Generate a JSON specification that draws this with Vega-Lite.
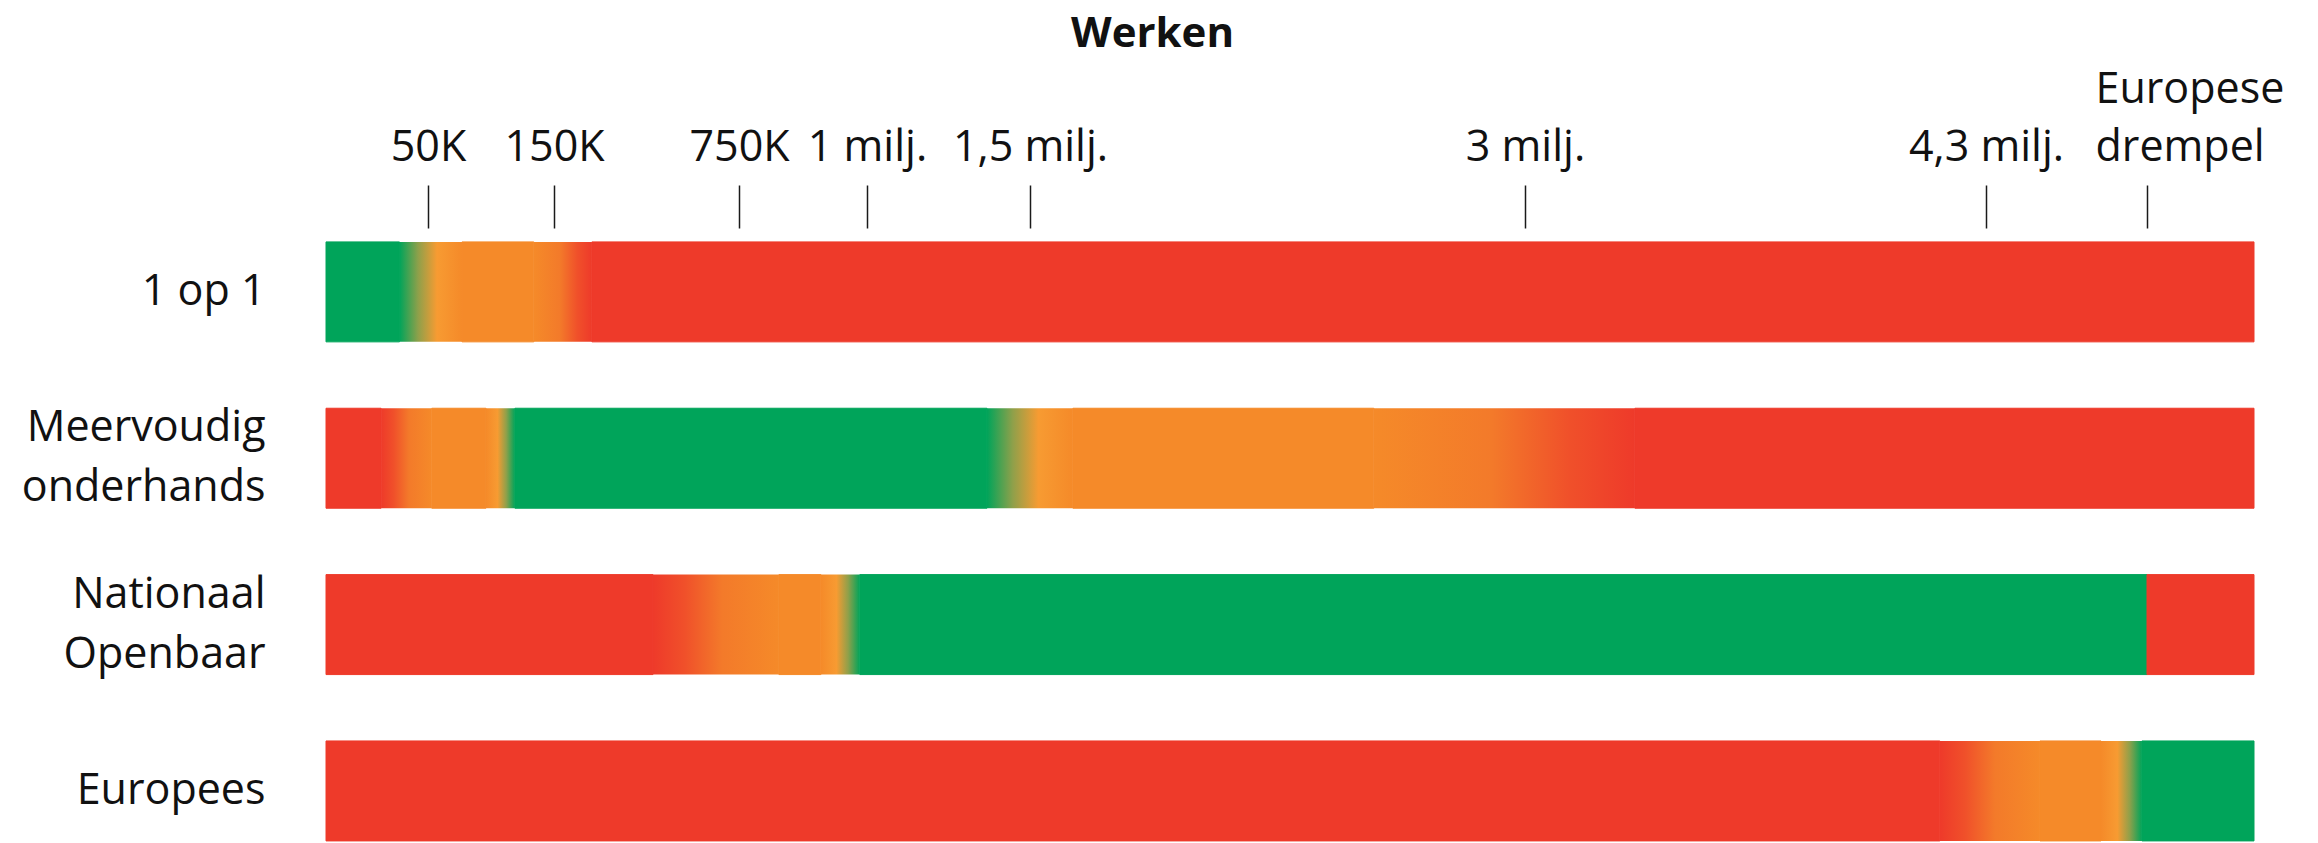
{
  "$schema": "https://vega.github.io/schema/vega-lite/v6.json",
  "width": 1928,
  "height": 615,
  "autosize": "none",
  "padding": {"left": 326, "top": 228, "right": 64, "bottom": 0},
  "background": "white",
  "config": {
    "font": "Open Sans",
    "view": {"stroke": null}
  },
  "title": {
    "text": "Werken",
    "fontSize": 42,
    "fontWeight": "bold",
    "color": "#111111",
    "anchor": "middle",
    "frame": "bounds",
    "offset": 12
  },
  "data": {
    "values": [
      {"procedure": "1 op 1", "start": 0, "eind": 36000, "kind": "groen"},
      {"procedure": "1 op 1", "start": 36000, "eind": 77000, "kind": "groen-oranje"},
      {"procedure": "1 op 1", "start": 77000, "eind": 134000, "kind": "oranje"},
      {"procedure": "1 op 1", "start": 134000, "eind": 273000, "kind": "oranje-rood"},
      {"procedure": "1 op 1", "start": 273000, "eind": 6000000, "kind": "rood"},

      {"procedure": "Meervoudig onderhands", "start": 0, "eind": 27000, "kind": "rood"},
      {"procedure": "Meervoudig onderhands", "start": 27000, "eind": 53000, "kind": "rood-oranje"},
      {"procedure": "Meervoudig onderhands", "start": 53000, "eind": 96000, "kind": "oranje"},
      {"procedure": "Meervoudig onderhands", "start": 96000, "eind": 119000, "kind": "oranje-groen"},
      {"procedure": "Meervoudig onderhands", "start": 119000, "eind": 1368000, "kind": "groen"},
      {"procedure": "Meervoudig onderhands", "start": 1368000, "eind": 1630000, "kind": "groen-oranje"},
      {"procedure": "Meervoudig onderhands", "start": 1630000, "eind": 2542000, "kind": "oranje"},
      {"procedure": "Meervoudig onderhands", "start": 2542000, "eind": 3310000, "kind": "oranje-rood"},
      {"procedure": "Meervoudig onderhands", "start": 3310000, "eind": 6000000, "kind": "rood"},

      {"procedure": "Nationaal Openbaar", "start": 0, "eind": 471000, "kind": "rood"},
      {"procedure": "Nationaal Openbaar", "start": 471000, "eind": 828000, "kind": "rood-oranje"},
      {"procedure": "Nationaal Openbaar", "start": 828000, "eind": 910000, "kind": "oranje"},
      {"procedure": "Nationaal Openbaar", "start": 910000, "eind": 986000, "kind": "oranje-groen"},
      {"procedure": "Nationaal Openbaar", "start": 986000, "eind": 5350000, "kind": "groen"},
      {"procedure": "Nationaal Openbaar", "start": 5350000, "eind": 6000000, "kind": "rood"},

      {"procedure": "Europees", "start": 0, "eind": 4170000, "kind": "rood"},
      {"procedure": "Europees", "start": 4170000, "eind": 4652000, "kind": "rood-oranje"},
      {"procedure": "Europees", "start": 4652000, "eind": 5050000, "kind": "oranje"},
      {"procedure": "Europees", "start": 5050000, "eind": 5317000, "kind": "oranje-groen"},
      {"procedure": "Europees", "start": 5317000, "eind": 6000000, "kind": "groen"}
    ]
  },
  "encoding": {
    "x": {
      "field": "start",
      "type": "quantitative",
      "scale": {
        "domain": [0, 50000, 150000, 750000, 1000000, 1500000, 3000000, 4300000, 5350000, 6000000],
        "range": [0, 102, 228, 413, 541, 704, 1199, 1660, 1821, 1928],
        "nice": false,
        "zero": false
      },
      "axis": {
        "orient": "top",
        "title": null,
        "domain": false,
        "grid": false,
        "values": [50000, 150000, 750000, 1000000, 1500000, 3000000, 4300000, 5350000],
        "labelExpr": "datum.value == 5350000 ? ['Europese', 'drempel'] : datum.value < 1000000 ? (datum.value / 1000) + 'K' : replace(format(datum.value / 1000000, '.1~f'), '.', ',') + ' milj.'",
        "labelFontSize": 43,
        "labelColor": "#111111",
        "labelLineHeight": 58,
        "labelPadding": {"condition": {"test": "datum.value == 5350000", "value": 74}, "value": 16},
        "labelOverlap": false,
        "labelFlush": false,
        "labelLimit": 0,
        "labelAlign": {"condition": {"test": "datum.value == 5350000", "value": "left"}, "value": "center"},
        "labelOffset": {"condition": {"test": "datum.value == 5350000", "value": -52}, "value": 0},
        "tickSize": 43,
        "tickWidth": 1.5,
        "tickColor": "#1a1a1a"
      }
    },
    "x2": {"field": "eind"},
    "y": {
      "field": "procedure",
      "type": "nominal",
      "sort": ["1 op 1", "Meervoudig onderhands", "Nationaal Openbaar", "Europees"],
      "scale": {"paddingInner": 0.399, "paddingOuter": 0.048, "align": 0.87},
      "axis": {
        "title": null,
        "domain": false,
        "ticks": false,
        "tickSize": 0,
        "labelExpr": "datum.value == '1 op 1' ? datum.value : split(datum.value, ' ')",
        "labelFontSize": 43,
        "labelColor": "#111111",
        "labelLineHeight": 60,
        "labelLimit": 0,
        "labelOffset": {"condition": {"test": "indexof(datum.value, ' ') > 0 && datum.value != '1 op 1'", "value": -30}, "value": 0},
        "labelPadding": 61
      }
    }
  },
  "layer": [
    {
      "transform": [{"filter": {"field": "kind", "oneOf": ["groen", "oranje", "rood"]}}],
      "mark": {"type": "rect", "strokeWidth": 1},
      "encoding": {
        "color": {
          "field": "kind",
          "type": "nominal",
          "scale": {"domain": ["groen", "oranje", "rood"], "range": ["#00A45A", "#F58A29", "#EE3A2A"]},
          "legend": null
        },
        "stroke": {
          "field": "kind",
          "type": "nominal",
          "scale": {"domain": ["groen", "oranje", "rood"], "range": ["#00A45A", "#F58A29", "#EE3A2A"]},
          "legend": null
        }
      }
    },
    {
      "transform": [{"filter": "datum.kind == 'rood-oranje'"}],
      "mark": {
        "type": "rect",
        "color": {
          "gradient": "linear", "x1": 0, "x2": 1, "y1": 0, "y2": 0,
          "stops": [{"offset": 0, "color": "#EE3A2A"}, {"offset": 0.25, "color": "#F0502A"}, {"offset": 0.55, "color": "#F37A2A"}, {"offset": 1, "color": "#F58A29"}]
        }
      }
    },
    {
      "transform": [{"filter": "datum.kind == 'oranje-rood'"}],
      "mark": {
        "type": "rect",
        "color": {
          "gradient": "linear", "x1": 0, "x2": 1, "y1": 0, "y2": 0,
          "stops": [{"offset": 0, "color": "#F58A29"}, {"offset": 0.45, "color": "#F37A2A"}, {"offset": 0.75, "color": "#F0502A"}, {"offset": 1, "color": "#EE3A2A"}]
        }
      }
    },
    {
      "transform": [{"filter": "datum.kind == 'oranje-groen'"}],
      "mark": {
        "type": "rect",
        "color": {
          "gradient": "linear", "x1": 0, "x2": 1, "y1": 0, "y2": 0,
          "stops": [{"offset": 0, "color": "#F58A29"}, {"offset": 0.4, "color": "#F79B32"}, {"offset": 0.7, "color": "#8FA04A"}, {"offset": 1, "color": "#00A45A"}]
        }
      }
    },
    {
      "transform": [{"filter": "datum.kind == 'groen-oranje'"}],
      "mark": {
        "type": "rect",
        "color": {
          "gradient": "linear", "x1": 0, "x2": 1, "y1": 0, "y2": 0,
          "stops": [{"offset": 0, "color": "#00A45A"}, {"offset": 0.3, "color": "#8FA04A"}, {"offset": 0.6, "color": "#F79B32"}, {"offset": 1, "color": "#F58A29"}]
        }
      }
    }
  ]
}
